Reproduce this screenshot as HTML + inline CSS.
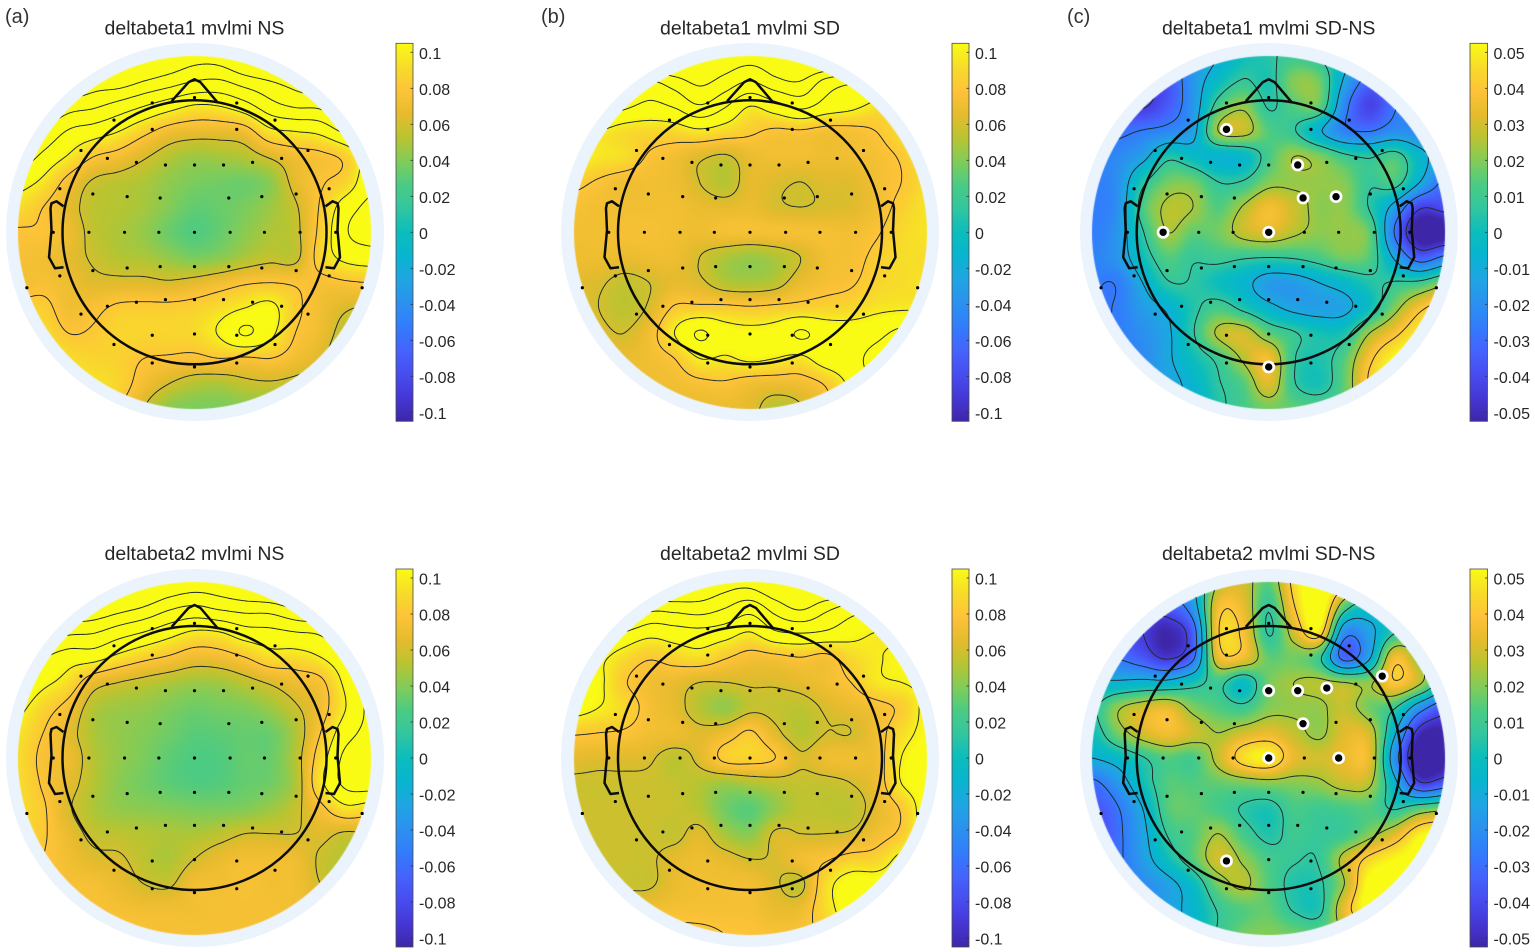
<!DOCTYPE html>
<html lang="en">
<head>
<meta charset="utf-8">
<title>deltabeta mvlmi topographic maps</title>
<style>
html,body{margin:0;padding:0;background:#fff;}
#stage{position:relative;width:1535px;height:952px;overflow:hidden;background:#fff;font-family:"Liberation Sans",Arial,sans-serif;}
#stage canvas{position:absolute;display:block;z-index:1;}
#stage .ring{position:absolute;border-radius:50%;background:#ebf4fc;z-index:0;}
#overlay{position:absolute;left:0;top:0;z-index:2;}
</style>
</head>
<body>
<div id="stage">
<svg id="overlay" width="1535" height="952" viewBox="0 0 1535 952" xmlns="http://www.w3.org/2000/svg"></svg>
</div>
<script>
// Scalp values sampled on a 15x15 grid across each disc, in units of 0.001.
const valuesBeta1NS = [
[220,220,220,220,210,195,180,168,170,190,210,220,220,220,220],
[200,200,190,175,172,160,150,140,138,150,160,172,185,200,200],
[190,170,150,143,132,120,108,98,100,112,132,142,145,170,190],
[170,140,118,110,100,85,72,68,68,72,95,100,105,125,140],
[135,115,98,80,73,62,52,46,48,52,62,72,76,85,115],
[108,96,74,58,54,50,43,38,36,35,42,66,78,88,115],
[92,80,66,54,52,48,40,32,34,38,46,58,82,110,125],
[78,78,70,55,50,44,34,28,33,42,50,56,85,118,128],
[75,72,66,58,52,50,44,38,42,50,56,56,88,105,110],
[72,75,70,64,64,64,62,66,72,78,80,78,75,78,80],
[85,85,72,76,83,84,84,86,92,100,105,84,72,62,58],
[95,92,80,82,88,88,88,90,102,122,105,80,70,52,45],
[100,100,92,88,86,80,78,76,80,78,80,72,62,45,40],
[100,100,100,95,88,72,60,52,50,56,58,55,50,45,40],
[100,100,100,95,82,60,42,38,38,40,42,45,45,45,40]
];
const valuesBeta1SD = [
[200,200,200,200,200,190,175,168,175,190,200,200,200,200,200],
[200,200,160,140,152,165,153,140,155,160,135,125,125,125,125],
[150,140,125,115,122,138,122,100,112,125,112,105,95,90,90],
[105,100,92,90,90,96,90,83,77,78,74,75,80,92,100],
[105,96,92,78,72,63,58,68,72,72,70,72,74,82,95],
[85,78,72,72,70,60,52,66,63,60,64,64,72,80,92],
[75,72,72,72,72,68,66,68,62,60,62,64,72,85,95],
[72,72,74,74,72,70,74,74,74,74,74,72,78,90,95],
[70,70,68,70,70,60,50,45,50,60,72,74,84,92,92],
[65,62,56,60,66,63,52,50,54,68,74,78,88,92,95],
[66,60,54,62,82,84,84,82,84,86,88,90,96,98,98],
[68,64,60,72,100,122,108,105,108,122,112,110,115,125,130],
[70,70,68,72,80,100,98,103,100,96,110,115,125,130,130],
[70,70,70,70,72,76,78,72,70,72,82,105,125,130,130],
[70,70,70,70,68,68,68,65,52,58,75,100,125,130,130]
];
const valuesBeta1Diff = [
[-40,-40,-40,-30,-20,-10,0,5,10,6,-5,-20,-30,-30,-30],
[-40,-45,-46,-38,-18,-2,8,3,20,18,-12,-32,-30,-25,-25],
[-35,-42,-45,-35,-18,12,22,6,14,16,-22,-42,-28,-20,-15],
[-30,-30,-26,-22,-14,24,28,14,8,-8,-24,-27,-20,-22,-22],
[-24,-22,-14,4,-2,-7,-4,12,24,20,10,6,12,-5,-18],
[-26,-20,4,18,18,7,8,20,22,22,20,8,12,-10,-30],
[-26,-20,12,26,24,14,25,36,29,21,21,6,-15,-42,-40],
[-26,-18,6,24,16,18,28,32,26,21,22,16,-28,-58,-58],
[-24,-18,0,14,8,10,8,7,8,12,18,14,-12,-34,-24],
[-26,-26,-10,6,6,0,-6,-16,-16,-10,-4,4,8,10,20],
[-28,-26,-16,-8,4,12,4,-6,-13,-15,-13,0,20,38,48],
[-28,-26,-20,-12,6,26,30,16,8,2,3,24,38,50,52],
[-28,-26,-22,-12,0,10,26,36,8,3,14,38,52,55,55],
[-26,-24,-20,-14,-6,6,14,32,8,2,16,42,52,55,55],
[-20,-20,-18,-12,-8,4,12,18,16,14,16,30,45,50,50]
];
const valuesBeta2NS = [
[210,210,210,210,205,195,180,172,175,190,205,210,210,210,210],
[190,190,185,180,170,160,145,138,145,150,152,165,175,190,190],
[170,155,145,142,130,120,108,98,100,112,115,120,125,150,170],
[140,122,110,108,95,85,78,70,72,80,92,92,100,118,135],
[120,105,92,68,60,55,50,46,47,54,62,70,76,105,130],
[105,88,74,52,46,44,39,35,37,39,46,58,72,100,125],
[95,80,66,50,44,40,35,30,31,33,34,50,80,112,125],
[92,76,70,52,44,38,31,27,28,33,34,52,90,125,130],
[92,78,66,52,42,36,31,28,29,33,36,50,95,125,130],
[92,82,62,50,44,42,40,38,38,40,46,56,75,95,90],
[92,82,68,56,54,52,50,50,54,60,60,60,64,58,60],
[88,80,72,64,62,54,50,60,68,72,72,70,58,52,50],
[85,80,75,74,68,60,58,72,72,75,72,72,60,50,50],
[85,82,78,76,74,72,72,72,74,74,74,72,70,60,50],
[85,85,85,82,80,76,74,74,74,74,74,74,72,70,60]
];
const valuesBeta2SD = [
[200,200,200,200,200,185,170,168,185,195,200,200,200,200,200],
[200,200,180,150,150,152,142,130,150,165,148,134,125,125,125],
[150,130,120,108,112,115,110,100,118,122,118,108,100,100,100],
[115,105,92,82,88,92,82,74,76,80,76,90,98,105,110],
[110,104,82,72,68,60,60,62,62,66,72,80,96,100,104],
[108,100,90,74,66,52,44,56,56,54,62,68,74,84,105],
[82,80,78,72,70,64,70,82,64,52,60,60,72,92,105],
[66,64,64,62,54,64,84,86,80,62,70,72,72,100,110],
[58,58,58,58,56,52,46,50,54,56,56,60,70,100,110],
[58,58,58,58,57,52,36,30,44,54,54,54,66,82,110],
[58,58,58,58,56,64,48,42,62,60,60,62,72,84,110],
[58,58,58,58,66,70,66,60,62,72,78,86,88,105,110],
[58,58,58,58,68,72,72,72,62,56,92,110,110,110,110],
[70,70,70,72,74,74,74,74,68,70,92,110,110,110,110],
[85,85,85,85,85,84,80,78,76,76,85,100,110,110,110]
];
const valuesBeta2Diff = [
[-30,-30,-30,-20,-10,25,30,15,45,60,45,10,-5,-5,-5],
[-40,-40,-40,-36,-18,36,34,8,40,60,14,-2,5,5,5],
[-40,-40,-44,-52,-34,40,38,6,30,48,-20,-14,6,10,10],
[-28,-28,-36,-46,-30,34,36,16,18,10,-32,-12,36,20,5],
[-8,-8,-6,-6,2,10,-2,18,24,26,24,22,40,26,0],
[4,22,30,34,20,14,10,20,22,22,28,18,8,-20,-38],
[0,18,30,36,30,24,30,34,28,22,32,30,-8,-50,-54],
[-10,-4,6,14,12,28,46,50,34,30,34,34,-20,-60,-58],
[-30,-18,0,14,14,16,18,20,20,22,28,26,-6,-42,-36],
[-38,-28,-10,14,16,12,6,3,12,10,12,14,6,15,20],
[-42,-30,-14,8,14,24,12,4,10,8,10,20,32,50,55],
[-42,-30,-16,0,14,30,22,12,8,8,28,44,52,55,55],
[-40,-30,-22,-14,-2,18,26,14,4,5,24,55,55,55,55],
[-36,-28,-22,-14,-6,8,14,16,6,4,34,55,55,55,55],
[-30,-25,-18,-12,-6,8,18,20,18,16,24,36,50,50,50]
];
// Contour levels, units of 0.001.
const contourLevelsGroup = [60,80,100,120,140,160];
const contourLevelsDiff = [-44,-27,-10,7,24,41];
// Colourbar tick labels.
const ticksGroup = [0.1,0.08,0.06,0.04,0.02,0,-0.02,-0.04,-0.06,-0.08,-0.1];
const ticksDiff = [0.05,0.04,0.03,0.02,0.01,0,-0.01,-0.02,-0.03,-0.04,-0.05];
// Electrode montage in percent of head radius (x right, y down); left/right pairs use abs x.
const montage = [[0,-102],[32,-98],[61,-85],[32,-78],[86,-62],[66,-56],[44,-53],[22,-51],[0,-51],[102,-33],[77,-29],[51,-27],[26,-26],[107,0],[80,0],[53,0],[27,0],[0,0],[102,33],[77,29],[51,27],[26,26],[0,26],[127,42],[66,56],[44,53],[22,51],[0,51],[86,62],[32,78],[0,77],[61,85],[32,99],[0,102]];
// Significant electrodes in the difference maps.
const significantBeta1 = [[-32,-78],[22,-51],[26,-26],[51,-27],[-80,0],[0,0],[0,102]];
const significantBeta2 = [[-32,78],[0,-51],[22,-51],[44,-53],[86,-62],[26,-26],[0,0],[53,0]];

const parula=[[.2422,.1504,.6603],[.2706,.2147,.8364],[.2813,.3006,.9414],[.2699,.3892,.9906],[.1963,.4847,.9892],[.1687,.5703,.9359],[.1248,.6459,.8883],[.0297,.7082,.8163],[.0433,.7411,.7394],[.1938,.7758,.6251],[.2906,.7973,.5188],[.5044,.7993,.348],[.7242,.7698,.191],[.9035,.733,.1774],[.997,.7659,.2199],[.9676,.8639,.1643],[.9769,.9839,.0805]];
function colour(t){
  t=Math.max(0,Math.min(1,t));
  const p=t*(parula.length-1),i=Math.min(parula.length-2,Math.floor(p)),f=p-i;
  return parula[i].map((c,k)=>Math.round(255*(c+(parula[i+1][k]-c)*f)));
}
function cr(a,b,c,d,t){return .5*(2*b+(c-a)*t+(2*a-5*b+4*c-d)*t*t+(-a+3*b-3*c+d)*t*t*t);}
function sample(g,u,v){
  const n=g.length-1,iu=Math.min(n-1,Math.floor(u)),iv=Math.min(n-1,Math.floor(v)),tu=u-iu,tv=v-iv;
  const at=(r,c)=>g[Math.max(0,Math.min(n,r))][Math.max(0,Math.min(n,c))];
  const row=[];
  for(let r=-1;r<3;r++){row.push(cr(at(iv+r,iu-1),at(iv+r,iu),at(iv+r,iu+1),at(iv+r,iu+2),tu));}
  return cr(row[0],row[1],row[2],row[3],tv);
}
const svgNS='http://www.w3.org/2000/svg';
const svg=document.getElementById('overlay');
const stage=document.getElementById('stage');
function mk(tag,attrs,parent){
  const e=document.createElementNS(svgNS,tag);
  for(const k in attrs){e.setAttribute(k,attrs[k]);}
  (parent||svg).appendChild(e);
  return e;
}
const DISC_R=176.5,RING_R=189,HEAD_R=132,BAR_HALF=189;
const panels=[
 {key:'beta1-ns',title:'deltabeta1 mvlmi NS',grid:valuesBeta1NS,cx:194.5,cy:232.3,bar:396,bw:17,levels:contourLevelsGroup,ticks:ticksGroup,dom:105,sig:[]},
 {key:'beta1-sd',title:'deltabeta1 mvlmi SD',grid:valuesBeta1SD,cx:750,cy:232.3,bar:952,bw:17,levels:contourLevelsGroup,ticks:ticksGroup,dom:105,sig:[]},
 {key:'beta1-diff',title:'deltabeta1 mvlmi SD-NS',grid:valuesBeta1Diff,cx:1268.7,cy:232.3,bar:1470,bw:17.5,levels:contourLevelsDiff,ticks:ticksDiff,dom:52.5,sig:significantBeta1},
 {key:'beta2-ns',title:'deltabeta2 mvlmi NS',grid:valuesBeta2NS,cx:194.5,cy:758,bar:396,bw:17,levels:contourLevelsGroup,ticks:ticksGroup,dom:105,sig:[]},
 {key:'beta2-sd',title:'deltabeta2 mvlmi SD',grid:valuesBeta2SD,cx:750,cy:758,bar:952,bw:17,levels:contourLevelsGroup,ticks:ticksGroup,dom:105,sig:[]},
 {key:'beta2-diff',title:'deltabeta2 mvlmi SD-NS',grid:valuesBeta2Diff,cx:1268.7,cy:758,bar:1470,bw:17.5,levels:contourLevelsDiff,ticks:ticksDiff,dom:52.5,sig:significantBeta2}
];
const panelLabels=[['(a)',5],['(b)',541],['(c)',1067]];
panelLabels.forEach(function(l){
  const t=mk('text',{x:l[1],y:23,'font-size':20,fill:'#333','font-family':'"Liberation Sans",sans-serif'});
  t.textContent=l[0];
  
  
});
const earPts=[[1,-26],[-6,-31],[-11,-29],[-12,-24],[-11,-2],[-13.5,25],[-7.5,36],[1,35]];
const nosePts=[[-23,-131],[-6,-150],[0,-153],[6,-150],[23,-130]];
function drawPanel(p,idx){
  const g=mk('g',{});
  
  
  const t=mk('text',{x:p.cx,y:p.cy-198,'text-anchor':'middle','font-size':19.5,fill:'#262626','font-family':'"Liberation Sans",sans-serif'},g);
  t.textContent=p.title;
  
  
  const ring=document.createElement('div');
  ring.className='ring';
  ring.style.left=(p.cx-RING_R)+'px';
  ring.style.top=(p.cy-RING_R)+'px';
  ring.style.width=(2*RING_R)+'px';
  ring.style.height=(2*RING_R)+'px';
  
  
  stage.insertBefore(ring,svg);

  // heat map
  const size=Math.ceil(DISC_R*2)+2,x0=p.cx-size/2,y0=p.cy-size/2;
  const n=p.grid.length-1;
  const toU=function(px){return (px/ (2*DISC_R)+.5)*n;};
  const cnv=document.createElement('canvas');
  cnv.width=size;cnv.height=size;
  cnv.style.left=x0+'px';cnv.style.top=y0+'px';
  
  
  const ctx=cnv.getContext('2d'),img=ctx.createImageData(size,size);
  for(let y=0;y<size;y++){
    for(let x=0;x<size;x++){
      const dx=x+.5-size/2,dy=y+.5-size/2,d=Math.hypot(dx,dy);
      const a=Math.max(0,Math.min(1,DISC_R-d+.5));
      const i=(y*size+x)*4;
      if(a<=0){continue;}
      const val=sample(p.grid,Math.max(0,Math.min(n,toU(dx))),Math.max(0,Math.min(n,toU(dy))));
      const c=colour((val+p.dom)/(2*p.dom));
      img.data[i]=c[0];img.data[i+1]=c[1];img.data[i+2]=c[2];img.data[i+3]=Math.round(a*255);
    }
  }
  ctx.putImageData(img,0,0);
  stage.insertBefore(cnv,svg);

  // contours via marching squares
  const over=document.getElementById('overlay');
  const step=2,cells=Math.ceil(2*DISC_R/step);
  const f=[];
  for(let r=0;r<=cells;r++){
    const row=[];
    for(let c=0;c<=cells;c++){
      row.push(sample(p.grid,Math.min(n,c*step/(2*DISC_R)*n),Math.min(n,r*step/(2*DISC_R)*n)));
    }
    f.push(row);
  }
  const ox=p.cx-DISC_R,oy=p.cy-DISC_R;
  const clipId='disc-clip-'+idx;
  const defs=mk('defs',{},over);
  const clip=mk('clipPath',{id:clipId},defs);
  mk('circle',{cx:p.cx,cy:p.cy,r:DISC_R},clip);
  const cg=mk('g',{'clip-path':'url(#'+clipId+')',fill:'none',stroke:'#1d2a2a','stroke-width':.95,'stroke-linecap':'round'},over);
  
  
  p.levels.forEach(function(lv){
    let d='';
    for(let r=0;r<cells;r++){
      for(let c=0;c<cells;c++){
        const a=f[r][c],b=f[r][c+1],e=f[r+1][c+1],h=f[r+1][c];
        const cross=[];
        if((a<lv)!==(b<lv)){cross.push([c+(lv-a)/(b-a),r]);}
        if((b<lv)!==(e<lv)){cross.push([c+1,r+(lv-b)/(e-b)]);}
        if((h<lv)!==(e<lv)){cross.push([c+(lv-h)/(e-h),r+1]);}
        if((a<lv)!==(h<lv)){cross.push([c,r+(lv-a)/(h-a)]);}
        for(let k=0;k+1<cross.length;k+=2){
          d+='M'+(ox+cross[k][0]*step).toFixed(1)+' '+(oy+cross[k][1]*step).toFixed(1)+'L'+(ox+cross[k+1][0]*step).toFixed(1)+' '+(oy+cross[k+1][1]*step).toFixed(1);
        }
      }
    }
    const path=mk('path',{d:d},cg);
    
    
  });

  // head outline
  const hg=mk('g',{fill:'none',stroke:'#0c0c0c','stroke-width':2.5,'stroke-linejoin':'round'},over);
  
  
  mk('circle',{cx:p.cx,cy:p.cy,r:HEAD_R},hg);
  mk('polyline',{points:nosePts.map(q=>(p.cx+q[0])+','+(p.cy+q[1])).join(' ')},hg);
  [-1,1].forEach(function(s){
    const edge=s*HEAD_R;
    mk('polyline',{points:earPts.map(q=>(p.cx+edge-s*q[0])+','+(p.cy+q[1])).join(' ')},hg);
  });

  // electrodes
  const eg=mk('g',{fill:'#000'},over);
  
  
  const ex=v=>p.cx+v/100*HEAD_R,ey=v=>p.cy+v/100*HEAD_R;
  montage.forEach(function(m){
    (m[0]===0?[0]:[-m[0],m[0]]).forEach(function(mx){
      const dot=mk('circle',{cx:ex(mx),cy:ey(m[1]),r:1.6},eg);
      
      
    });
  });
  p.sig.forEach(function(m){
    const halo=mk('circle',{cx:ex(m[0]),cy:ey(m[1]),r:6.4,fill:'#fff'},eg);
    
    
    const dot=mk('circle',{cx:ex(m[0]),cy:ey(m[1]),r:3.7,fill:'#000'},eg);
    
    
  });

  // colourbar
  const bg=mk('g',{},over);
  
  
  const gid='bar-grad-'+idx;
  const lg=mk('linearGradient',{id:gid,x1:0,y1:1,x2:0,y2:0},defs);
  for(let i=0;i<=32;i++){
    const c=colour(i/32);
    mk('stop',{offset:i/32,'stop-color':'rgb('+c.join(',')+')'},lg);
  }
  const barY=p.cy-BAR_HALF;
  const br=mk('rect',{x:p.bar,y:barY,width:p.bw,height:2*BAR_HALF,fill:'url(#'+gid+')',stroke:'#4a4a4a','stroke-width':.8},bg);
  
  
  const barScale=v=>p.cy-(v*1000)/p.dom*BAR_HALF;
  p.ticks.forEach(function(v){
    const y=barScale(v);
    const tick=mk('line',{x1:p.bar+p.bw-2.5,x2:p.bar+p.bw,y1:y,y2:y,stroke:'#333','stroke-width':.8},bg);
    
    
    const lab=mk('text',{x:p.bar+p.bw+6,y:y+6.5,'font-size':16,fill:'#262626','font-family':'"Liberation Sans",sans-serif'},bg);
    lab.textContent=String(v);
    
    
  });
}
panels.forEach(drawPanel);
</script>
</body>
</html>
